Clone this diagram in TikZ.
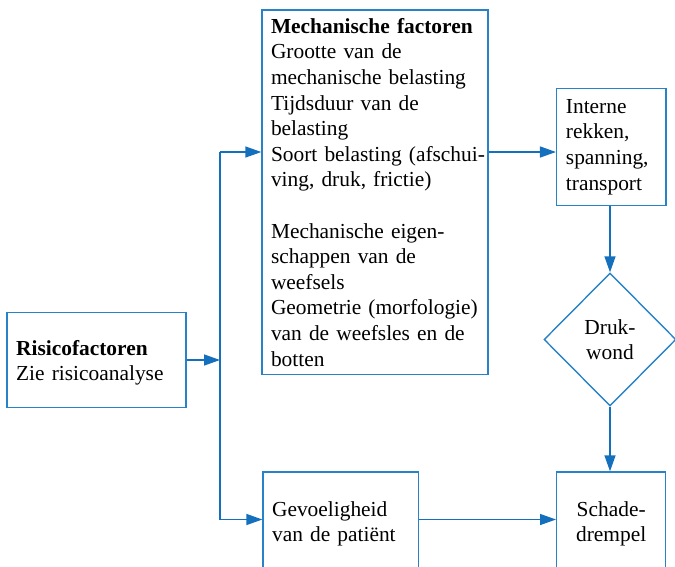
\documentclass[tikz,border=0pt]{standalone}
\usepackage{fontspec}
\setmainfont{Liberation Serif}
\usetikzlibrary{arrows.meta,shapes.geometric}
\definecolor{boxblue}{RGB}{40,130,200}
\definecolor{arrowblue}{RGB}{20,112,188}
\begin{document}
\begin{tikzpicture}[x=1pt,y=-1pt,
  every node/.style={font=\fontsize{21.4}{25.6}\selectfont, text=black},
  box/.style={draw=boxblue, line width=1.4pt, rectangle, inner ysep=0pt, align=left},
  cbox/.style={draw=boxblue, line width=1.4pt, rectangle, inner ysep=0pt, align=center},
  dbox/.style={draw=boxblue, line width=1.4pt, diamond, aspect=1, inner sep=0pt, align=center},
  link/.style={draw=arrowblue, line width=1.4pt},
  arr/.style={link, -{Triangle[length=16pt,width=11pt]}}]
\useasboundingbox (0,0) rectangle (675,566);
\clip (0,0) rectangle (675,566);

\node[box, inner xsep=9.3pt, text width=160.7pt, minimum height=94.6pt] (risico) at (96.5,360)
  {\rule{0pt}{20.6pt}\textbf{Risicofactoren}\\Zie risicoanalyse};

\node[box, inner xsep=9pt, text width=208pt, minimum height=364.5pt] (mech) at (375,192.3)
  {\mbox{\textbf{Mechanische factoren}}\\
   \mbox{Grootte van de}\\
   \mbox{mechanische belasting}\\
   \mbox{Tijdsduur van de}\\
   \mbox{belasting}\\
   \mbox{Soort belasting (afschui-}\\
   \mbox{ving, druk, frictie)}\\[25.6pt]
   \mbox{Mechanische eigen-}\\
   \mbox{schappen van de}\\
   \mbox{weefsels}\\
   \mbox{Geometrie (morfologie)}\\
   \mbox{van de weefsles en de}\\
   \mbox{botten}};

\node[box, inner xsep=9.3pt, text width=90.7pt, minimum height=117.4pt] (interne) at (611.3,147)
  {Interne\\rekken,\\spanning,\\transport};

\node[dbox, minimum width=132pt, minimum height=133pt] (druk) at (610,339.5)
  {Druk-\\wond};

\node[box, inner xsep=9pt, text width=137.3pt, minimum height=104pt] (gevoel) at (340.7,524)
  {Gevoeligheid\\van de patiënt};

\node[cbox, inner xsep=9pt, text width=91pt, minimum height=104pt] (schade) at (611.2,524)
  {Schade-\\drempel};

\coordinate (ttop) at (220,152);
\coordinate (tbot) at (220,519.5);

\draw[link] (ttop) -- (tbot);
\draw[arr] (risico.east) -- (risico.east -| ttop);
\draw[arr] (ttop) -- (ttop -| mech.west);
\draw[arr] (tbot) -- (tbot -| gevoel.west);
\draw[arr] (ttop -| mech.east) -- (ttop -| interne.west);
\draw[arr] (druk.north |- interne.south) -- (druk.north);
\draw[arr] (druk.south) -- (druk.south |- schade.north);
\draw[arr] (tbot -| gevoel.east) -- (tbot -| schade.west);
\end{tikzpicture}
\end{document}
